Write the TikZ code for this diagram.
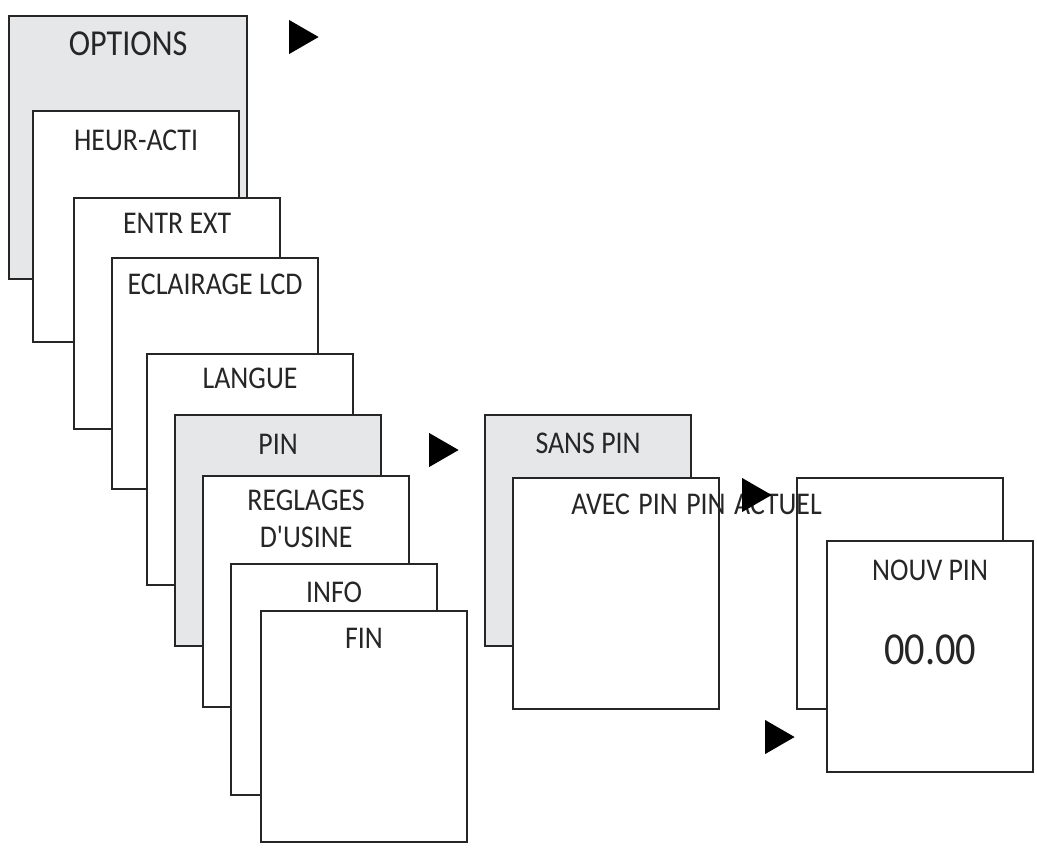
\documentclass[tikz,border=0pt]{standalone}
\usepackage{fontspec}
\newfontfamily\dinfont{Carlito}[FakeStretch=0.88]
\usetikzlibrary{shapes.geometric}
\definecolor{panelgray}{HTML}{E6E7E9}
\tikzset{
    box/.style={draw=black!85, line width=1.5pt, fill=white, anchor=north west,
                minimum width=5.15cm, minimum height=5.775cm, inner sep=0pt},
    shaded/.style={box, fill=panelgray},
    lbl/.style={font=\dinfont\fontsize{22.5}{26.3}\selectfont, text=black!85,
                inner sep=0pt, align=center},
    play/.style={regular polygon, regular polygon sides=3, shape border rotate=-90,
                 fill=black, inner sep=0pt, minimum size=0.98cm},
}

\begin{document}
\begin{tikzpicture}[x=0.025cm, y=-0.025cm]
    \path[use as bounding box] (0,0) rectangle (1037,851);

    \node[shaded, minimum width=5.95cm, minimum height=6.575cm] (options) at (8,15) {};
    \node[lbl, font=\dinfont\fontsize{26}{30}\selectfont]
        (optionstxt) at ([yshift=-0.71cm]options.north) {OPTIONS};
    \node[play] (optplay) at (299,37) {};

    \node[box] (heuracti) at (32,110) {};
    \node[lbl] (heuractitxt) at ([yshift=-0.75cm]heuracti.north) {HEUR-ACTI};
    \node[box] (entrext) at (73,197) {};
    \node[lbl] (entrexttxt) at ([yshift=-0.65cm]entrext.north) {ENTR EXT};
    \node[box] (eclairage) at (111,257) {};
    \node[lbl] (eclairagetxt) at ([yshift=-0.675cm]eclairage.north) {ECLAIRAGE LCD};
    \node[box] (langue) at (146,353) {};
    \node[lbl] (languetxt) at ([yshift=-0.625cm]langue.north) {LANGUE};
    \node[shaded] (pin) at (174,414) {};
    \node[lbl] (pintxt) at ([yshift=-0.75cm]pin.north) {PIN};
    \node[box] (reglages) at (202,475) {};
    \node[lbl] (reglagestxt) at ([yshift=-1.09cm]reglages.north) {REGLAGES\\D'USINE};
    \node[box] (info) at (230,563) {};
    \node[lbl] (infotxt) at ([yshift=-0.725cm]info.north) {INFO};
    \node[box] (fin) at (260,610) {};
    \node[lbl] (fintxt) at ([yshift=-0.7cm]fin.north) {FIN};
    \node[play] (pinplay) at (439,450) {};

    \node[shaded] (sanspin) at (484,414) {};
    \node[lbl] (sanspintxt) at ([yshift=-0.725cm]sanspin.north) {SANS PIN};
    \node[box] (avecpin) at (512,477) {};
    \node[box] (pinactuel) at (796,477) {};
    \node[box] (nouvpin) at (826,540) {};
    \node[lbl] (nouvpintxt) at ([yshift=-0.75cm]nouvpin.north) {NOUV PIN};
    \node[lbl, font=\dinfont\fontsize{32.6}{36}\selectfont]
        (nouvpinval) at ([yshift=-2.75cm]nouvpin.north) {00.00};
    \node[lbl, font={\dinfont\fontsize{22.5}{26.3}\selectfont\spaceskip=6pt\relax}]
        (avecpintxt) at (696.5,504) {AVEC PIN PIN ACTUEL};
    \node[play] (avecplay) at (752,495) {};
    \node[play] (nouvplay) at (775,737) {};
\end{tikzpicture}
\end{document}
